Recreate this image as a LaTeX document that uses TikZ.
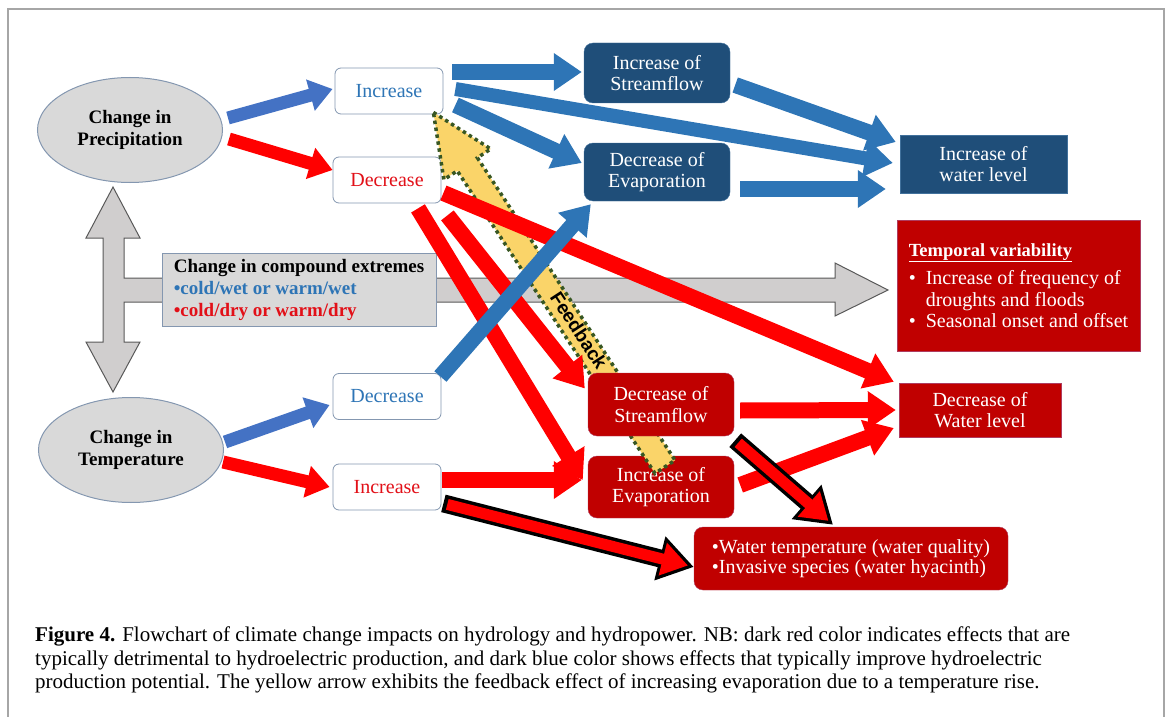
\documentclass[tikz,border=0pt]{standalone}
\usepackage{fontspec}
\setmainfont{Liberation Serif}
\setsansfont{Liberation Sans}
\usetikzlibrary{arrows.meta}
\usetikzlibrary{shapes.geometric}
\usetikzlibrary{calc}
\definecolor{mblue}{RGB}{46,117,182}
\definecolor{mblueb}{RGB}{68,114,196}
\definecolor{mred}{RGB}{255,0,0}
\definecolor{txtred}{RGB}{226,16,24}
\definecolor{dblue}{RGB}{31,78,121}
\definecolor{dblueedge}{RGB}{65,113,156}
\definecolor{dred}{RGB}{192,0,0}
\definecolor{drededge}{RGB}{175,60,95}
\definecolor{lgrey}{RGB}{217,217,217}
\definecolor{mgrey}{RGB}{208,206,206}
\definecolor{edgegrey}{RGB}{132,151,176}
\definecolor{fyellow}{RGB}{250,212,105}
\definecolor{fgreen}{RGB}{56,87,35}
\tikzset{every node/.style={font=\fontsize{20}{21.5}\selectfont},
         frame/.style={draw=black!35, line width=1.2pt},
         greyarrow/.style={fill=mgrey, draw=black!65, line width=1pt},
         bubble/.style={ellipse, draw=edgegrey, fill=lgrey, line width=1pt, minimum width=185pt,
                        minimum height=105pt, align=center, font=\bfseries\fontsize{19}{22}\selectfont},
         choice/.style={rectangle, rounded corners=6pt, draw=edgegrey, fill=white, line width=0.8pt,
                        minimum width=108pt, minimum height=46pt},
         bluebox/.style={rectangle, rounded corners=9pt, draw=dblueedge, fill=dblue, text=white,
                         minimum width=146pt, minimum height=60pt, align=center},
         redbox/.style={rectangle, rounded corners=9pt, draw=drededge, fill=dred, text=white,
                        minimum width=146pt, minimum height=62pt, align=center},
         sarrow/.style={line width=13pt, -{Triangle[length=23pt,width=31pt]}},
         barrow/.style={line width=16pt, -{Triangle[length=28pt,width=36pt]}},
         outarrow/.style={line width=18pt, black, -{Triangle[length=35pt,width=43pt]}},
         inarrow/.style={line width=11pt, mred, shorten >=6pt, shorten <=4pt, -{Triangle[length=26pt,width=32pt]}}}

\begin{document}
\begin{tikzpicture}[x=1pt, y=-1pt]
  \useasboundingbox (0,0) rectangle (1171,717);
  \draw[frame] (8,717) -- (8,9) -- (1164,9) -- (1164,717);

  % up, down and right
  \draw[greyarrow] (113,187) -- (140,238) -- (124,238) -- (124,278) -- (835,278) -- (835,263) -- (888,290)
    -- (835,316) -- (835,302) -- (124,302) -- (124,342) -- (140,342) -- (113,392) -- (86,342) -- (103,342)
    -- (103,238) -- (86,238) -- cycle;

  \node[bubble] (ellP) at (130,130) {Change in\\Precipitation};
  \node[bubble] (ellT) at (131,450) {Change in\\Temperature};

  \node[choice, text=mblue] (incP) at (389,91) {Increase};
  \node[choice, text=txtred] (decP) at (387,180) {Decrease};
  \node[choice, text=mblue] (decT) at (387,396.5) {Decrease};
  \node[choice, text=txtred] (incT) at (387,487) {Increase};

  \node[rectangle, draw=edgegrey, fill=lgrey, line width=0.8pt, minimum width=274pt, minimum height=73pt,
        align=left, inner sep=2pt, font=\bfseries\fontsize{19}{22}\selectfont] (cmpd) at (299,289.5)
        {Change in compound extremes\\ \textcolor{mblue}{\textbullet cold/wet or warm/wet}\\
         \textcolor{txtred}{\textbullet cold/dry or warm/dry}};

  \node[bluebox] (incS) at (657,73) {Increase of\\Streamflow};
  \node[bluebox, minimum height=58pt] (decE) at (657,172) {Decrease of\\Evaporation};
  \node[bluebox, rounded corners=0pt, minimum width=167pt, minimum height=58pt] (incW) at (983.5,164)
        {Increase of\\water level};

  \node[redbox, rounded corners=0pt, minimum width=243pt, minimum height=131pt, align=left] (tempV)
        at (1018.5,285.5) {\underline{\textbf{\fontsize{18.5}{21}\selectfont Temporal variability}}\\[7pt]
        \textbullet\ \ Increase of frequency of\\ \phantom{\textbullet\ \ }droughts and floods\\
        \textbullet\ \ Seasonal onset and offset};
  \node[redbox, rounded corners=0pt, minimum width=162pt, minimum height=54pt] (decW) at (980,410)
        {Decrease of\\Water level};
  \node[redbox, minimum width=314pt, minimum height=63pt, align=left, font=\fontsize{20}{20}\selectfont]
        (wtemp) at (851,558.5) {\textbullet Water temperature (water quality)\\
        \textbullet Invasive species (water hyacinth)};

  \node[redbox] (incE) at (661,487) {Increase of\\Evaporation};

  % feedback
  \coordinate (fbtip) at ($(incP.south east)+(-10,-2)$);
  \coordinate (fbtail) at ($(incE.north)+(4,11)$);
  \path[fill=fyellow, draw=fgreen, line width=3.5pt, dash pattern=on 3.5pt off 3.5pt]
    (fbtip) -- ($(fbtip)!62pt!(fbtail)!28pt!90:(fbtail)$) -- ($(fbtip)!62pt!(fbtail)!12pt!90:(fbtail)$)
    -- ($(fbtail)!12pt!-90:(fbtip)$) -- ($(fbtail)!12pt!90:(fbtip)$)
    -- ($(fbtip)!62pt!(fbtail)!12pt!-90:(fbtail)$) -- ($(fbtip)!62pt!(fbtail)!28pt!-90:(fbtail)$) -- cycle;
  \node[rotate=-57, inner sep=1pt, font=\sffamily\bfseries\fontsize{19}{19}\selectfont] (fbtext)
        at ($(fbtip)!0.615!(fbtail)+(3,0)$) {Feedback};

  \node[redbox, minimum height=63pt] (decS) at (661,404.5) {Decrease of\\Streamflow};

  % blue
  \draw[sarrow, mblueb] ($(ellP.east)+(5,-12)$) -- ($(incP.west)+(-2,-2)$);
  \draw[sarrow, mblueb] ($(ellT.east)+(1,-8)$) -- ($(decT.west)+(-3,8.5)$);
  \draw[barrow, mblue] ($(incP.east)+(9,-19)$) -- ($(incS.west)+(-2,-1)$);
  \draw[barrow, mblue, line width=14pt] ($(incP.east)+(12,-2)$) -- ($(incW.west)+(-7,-1)$);
  \draw[barrow, mblue] ($(incP.east)+(12,14)$) -- ($(decE.west)+(-2,-9)$);
  \draw[barrow, mblue] ($(incS.east)+(5,12)$) -- ($(incW.west)+(-4,-22)$);
  \draw[barrow, mblue] ($(decE.east)+(10,17)$) -- ($(incW.west)+(-14,25)$);

  % red
  \draw[sarrow, mred] ($(ellP.east)+(6,9)$) -- ($(decP.west)+(0,-10)$);
  \draw[sarrow, mred] ($(ellT.east)+(-1,12)$) -- ($(incT.west)+(-3,0)$);
  \draw[barrow, mred] ($(decP.east)+(2,13)$) -- ($(decW.north west)+(-5,-1)$);
  \draw[barrow, mred] ($(decP.south)+(31,5)$) -- ($(incE.west)+(-5,-7)$);
  \draw[barrow, mred] ($(decP.south east)+(6,12)$) -- ($(decS.west)+(-3,-16)$);
  \draw[barrow, mred] ($(incT.east)+(1,-7)$) -- ($(incE.west)+(-6,-7)$);
  \draw[barrow, mred] ($(decS.east)+(6,6)$) -- ($(decW.west)+(-3,0)$);
  \draw[barrow, mred] ($(incE.east)+(6,-2)$) -- ($(decW.west)+(-5,18)$);

  % blue, on top
  \draw[barrow, mblue] ($(decT.east)+(-1,-20)$) -- ($(decE.south west)+(7,3)$);

  % outlined
  \draw[outarrow] ($(decS.south east)+(1,4)$) -- ($(wtemp.north)+(-18,-2)$);
  \draw[inarrow] ($(decS.south east)+(1,4)$) -- ($(wtemp.north)+(-18,-2)$);
  \draw[outarrow] ($(incT.south east)+(2,-7)$) -- ($(wtemp.west)+(0,8.5)$);
  \draw[inarrow] ($(incT.south east)+(2,-7)$) -- ($(wtemp.west)+(0,8.5)$);

  \node[anchor=north west, align=left, inner sep=0pt, font=\fontsize{21}{23.3}\selectfont] (caption) at (35,627)
    {\textbf{Figure 4.} Flowchart of climate change impacts on hydrology and hydropower. NB: dark red color indicates effects that are\\
     typically detrimental to hydroelectric production, and dark blue color shows effects that typically improve hydroelectric\\
     production potential. The yellow arrow exhibits the feedback effect of increasing evaporation due to a temperature rise.};
\end{tikzpicture}
\end{document}
